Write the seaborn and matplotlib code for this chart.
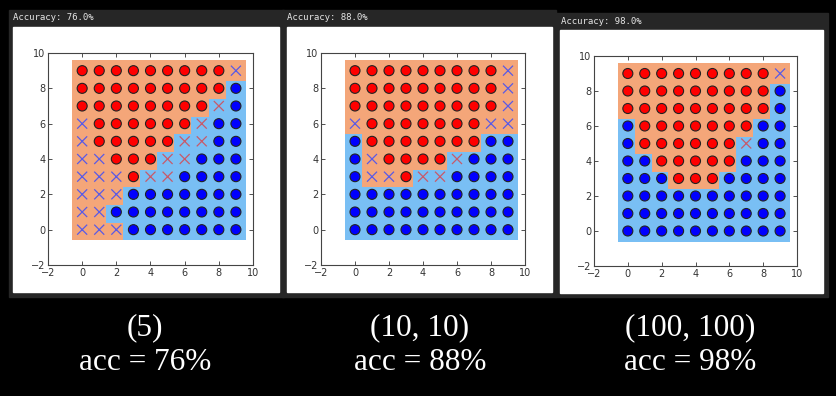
import numpy as np
import pandas as pd
import seaborn as sns
import matplotlib.pyplot as plt
from matplotlib.patches import Rectangle
from matplotlib.colors import ListedColormap

# rows listed from y=9 (top) down to y=0, columns x=0..9; R = red class, B = blue class
truth = ["RRRRRRRRRB", "RRRRRRRRRB", "RRRRRRRRRB", "BRRRRRRRBB", "BRRRRRRRBB",
         "BBRRRRRBBB", "BBBRRRBBBB", "BBBBBBBBBB", "BBBBBBBBBB", "BBBBBBBBBB"]

pred_5 = ["RRRRRRRRRR", "RRRRRRRRRB", "RRRRRRRRBB", "RRRRRRRBBB", "RRRRRRBBBB",
          "RRRRRBBBBB", "RRRRBBBBBB", "RRRBBBBBBB", "RRBBBBBBBB", "RRRBBBBBBB"]
pred_10_10 = ["RRRRRRRRRR", "RRRRRRRRRR", "RRRRRRRRRR", "RRRRRRRRRR", "BRRRRRRRBB",
              "BRRRRRBBBB", "BRRRBBBBBB", "BBBBBBBBBB", "BBBBBBBBBB", "BBBBBBBBBB"]
pred_100_100 = ["RRRRRRRRRR", "RRRRRRRRRB", "RRRRRRRRRB", "BRRRRRRRBB", "BRRRRRRBBB",
                "BBRRRRRBBB", "BBBRRRBBBB", "BBBBBBBBBB", "BBBBBBBBBB", "BBBBBBBBBB"]

configs = ["(5)", "(10, 10)", "(100, 100)"]
accs = ["76.0%", "88.0%", "98.0%"]
acc_short = ["76%", "88%", "98%"]
preds = [pred_5, pred_10_10, pred_100_100]

W, H = 837, 396
fig = plt.figure(figsize=(W / 100, H / 100), dpi=100, facecolor="black")
sns.set_style("ticks")


def rect(x0, y0, x1, y1, color):
    fig.patches.append(Rectangle((x0 / W, 1 - y1 / H), (x1 - x0) / W, (y1 - y0) / H,
                                 transform=fig.transFigure, color=color, zorder=-5))


# screenshot frames: (dark frame), (white area), (axes box), header text pos, caption x
frames = [((9, 10, 284, 297), (13, 27, 279, 292), (48, 53, 253, 265), (13, 18), 145),
          ((282, 10, 556, 297), (287, 27, 552, 292), (321, 53, 525, 265), (287, 18), 420),
          ((555, 13, 828, 297), (560, 30, 823, 293), (594, 56, 797, 266), (561, 21), 690)]

edges = np.array([-0.6, 0.4, 1.4, 2.4, 3.4, 4.4, 5.4, 6.4, 7.4, 8.4, 9.6])
bg_cmap = ListedColormap(["#79bff4", "#f4a679"])

for i, (dark, white, box, head, cx) in enumerate(frames):
    rect(*dark, "#262626")
    rect(*white, "white")
    fig.text(head[0] / W, 1 - head[1] / H, f"Accuracy: {accs[i]}", color="#e6e6e6",
             fontsize=6.5, family="DejaVu Sans Mono", va="center", ha="left")

    rows = []
    for r in range(10):
        for c in range(10):
            rows.append({"x": c, "y": 9 - r, "truth": truth[r][c], "pred": preds[i][r][c]})
    df = pd.DataFrame(rows)
    df["ok"] = df["truth"] == df["pred"]

    grid = np.array([[1 if ch == "R" else 0 for ch in row] for row in preds[i][::-1]])

    ax = fig.add_axes([box[0] / W, 1 - box[3] / H, (box[2] - box[0]) / W, (box[3] - box[1]) / H])
    ax.set_zorder(2)
    ax.set_facecolor("white")
    ax.pcolormesh(edges, edges, grid, cmap=bg_cmap, vmin=0, vmax=1, zorder=1)

    palette_o = {"R": "#ff0000", "B": "#0000ff"}
    palette_x = {"R": "#c85a6a", "B": "#5a5ae6"}
    sns.scatterplot(data=df[df["ok"]], x="x", y="y", hue="truth", palette=palette_o,
                    marker="o", s=52, edgecolor="#222222", linewidth=0.8,
                    legend=False, ax=ax, zorder=3)
    sns.scatterplot(data=df[~df["ok"]], x="x", y="y", hue="truth", palette=palette_x,
                    marker="x", s=52, linewidth=0.9, legend=False, ax=ax, zorder=3)

    ax.set_xlim(-2, 10)
    ax.set_ylim(-2, 10)
    ax.set_xticks(range(-2, 11, 2))
    ax.set_yticks(range(-2, 11, 2))
    ax.tick_params(direction="in", length=3, width=0.6, labelsize=7, colors="#333333",
                   top=True, right=True, pad=2)
    for sp in ax.spines.values():
        sp.set_color("#444444")
        sp.set_linewidth(0.8)
    ax.set_xlabel("")
    ax.set_ylabel("")

    fig.text(cx / W, 1 - 328 / H, configs[i], color="white", fontsize=22.5,
             family="Liberation Serif", ha="center", va="center")
    fig.text(cx / W, 1 - 363 / H, f"acc = {acc_short[i]}", color="white", fontsize=22.5,
             family="Liberation Serif", ha="center", va="center")

fig.savefig("out.png", dpi=100, facecolor="black")
